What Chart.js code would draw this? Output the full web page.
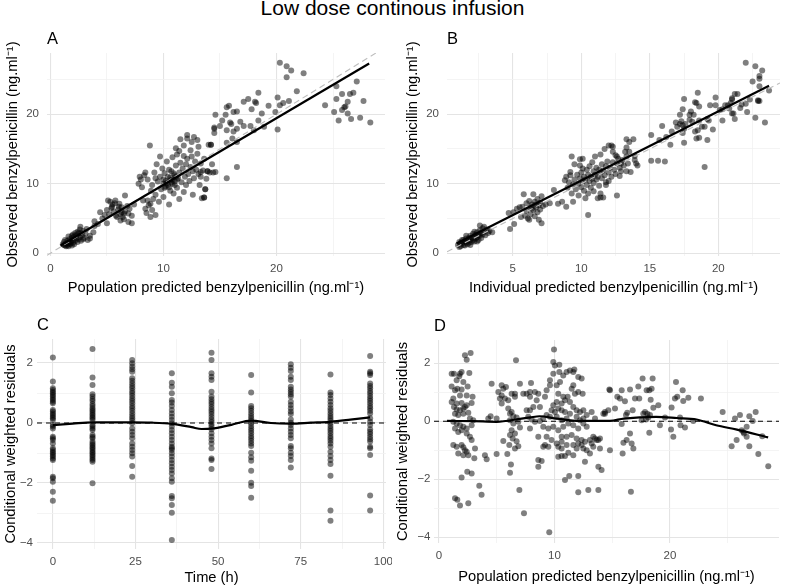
<!DOCTYPE html>
<html>
<head>
<meta charset="utf-8">
<script src="https://cdn.jsdelivr.net/npm/chart.js@4.4.1/dist/chart.umd.min.js"></script>
<style>
  body { margin: 0; background: #fff; font-family: "Liberation Sans", Arial, sans-serif; }
  #fig { position: relative; width: 785px; height: 587px; overflow: hidden; background: #fff; }
  #fig canvas { position: absolute; }
  #title { position: absolute; left: 0; top: -3px; width: 785px; text-align: center; font-size: 21px; line-height: 21px; color: #000; }
</style>
</head>
<body>
<div id="fig">
  <div id="title">Low dose continous infusion</div>
  <canvas id="pA" width="392" height="305" style="left:0;top:0;width:392px;height:305px"></canvas>
  <canvas id="pB" width="393" height="305" style="left:392px;top:0;width:393px;height:305px"></canvas>
  <canvas id="pC" width="392" height="282" style="left:0;top:305px;width:392px;height:282px"></canvas>
  <canvas id="pD" width="393" height="282" style="left:392px;top:305px;width:393px;height:282px"></canvas>
</div>
<script>
// Panel A: [population predicted, observed]
const aPoints = [
  [1.1,1.3],[1.2,1.6],[1.3,1.1],[1.4,1.4],[1.5,1.8],[1.5,1.2],[1.6,1.5],[1.7,2.0],[1.7,1.3],[1.8,1.7],
  [1.9,1.1],[1.9,2.2],[2.0,1.5],[2.0,1.9],[2.1,2.4],[2.1,1.3],[2.2,1.8],[2.3,2.1],[2.3,2.6],[2.4,1.6],
  [2.5,2.0],[2.5,2.9],[2.6,2.3],[2.7,1.8],[2.8,2.6],[2.9,3.2],[3.0,2.2],[3.1,2.8],[3.3,1.9],[3.5,2.5],
  [1.3,1.9],[1.6,2.4],[1.8,1.4],[2.2,2.9],[2.4,3.1],[2.6,3.4],[2.0,2.7],[1.4,1.0],[1.2,1.2],[2.9,2.0],
  [3.2,3.5],[3.8,3.0],[1.6,1.0],[2.7,2.9],[1.9,2.5],[3.5,2.1],[3.9,3.9],[2.65,3.8],
  [5.3,7.4],[5.75,7.6],[5.45,6.7],[6.05,6.7],[6.3,5.9],[5.9,5.2],[6.2,4.7],[6.5,5.7],[6.9,4.5],[7.2,4.3],
  [5.0,4.3],[4.6,5.0],[4.4,5.9],[6.6,8.3],[5.0,6.2],[5.2,5.6],[5.5,7.0],[5.6,6.0],[5.8,5.4],[6.0,6.3],
  [6.1,7.1],[6.3,6.6],[6.4,5.2],[6.6,6.0],[6.8,6.8],[7.0,6.4],[7.2,5.4],[5.4,6.5],[5.7,7.2],[6.2,5.6],
  [4.8,5.5],[4.2,4.2],[3.9,4.6],[6.9,5.7],[7.4,7.0],[5.1,7.6],[6.5,4.9],
  [9.7,13.9],[7.9,11.0],[8.3,11.2],[7.8,10.0],[8.1,9.5],[8.6,7.6],[8.85,7.1],[8.5,5.8],[8.85,5.2],[9.3,5.5],
  [8.8,15.5],[12.1,17.0],[11.5,16.4],[12.7,16.7],[13.0,16.3],[11.8,15.5],[11.1,15.1],[11.4,14.7],[12.4,14.8],[13.1,15.3],
  [14.0,15.6],[12.1,16.5],[12.5,16.0],
  [9.0,9.8],[9.2,11.6],[9.3,8.4],[9.4,12.8],[9.5,10.3],[9.6,7.4],[9.7,11.0],[9.8,9.2],[9.9,12.2],[10.0,10.6],
  [10.0,8.1],[10.1,11.5],[10.2,9.6],[10.3,13.2],[10.3,10.1],[10.4,11.0],[10.5,7.0],[10.5,12.0],[10.6,9.0],[10.6,10.5],
  [10.7,11.8],[10.8,10.0],[10.8,13.8],[10.9,8.6],[11.0,11.2],[11.0,10.3],[11.1,12.6],[11.2,9.4],[11.2,14.2],[11.3,10.8],
  [11.4,7.8],[11.4,11.6],[11.5,13.0],[11.6,10.2],[11.7,12.2],[11.8,8.8],[11.8,14.0],[11.9,11.0],[12.0,12.8],[12.0,9.8],
  [12.1,13.6],[12.2,11.4],[12.3,10.4],[12.4,12.4],[12.5,13.9],[12.6,8.4],[12.6,11.8],[12.7,10.8],[12.8,13.2],[12.9,12.0],
  [13.0,14.3],[13.1,11.4],[13.2,9.8],[13.3,12.9],[13.4,7.9],[13.5,11.9],[13.6,13.6],[13.8,10.7],[13.9,11.8],[14.1,11.6],
  [14.3,12.8],[14.6,11.7],[13.7,9.2],[13.6,8.0],[14.5,17.9],[14.2,15.6],[14.6,19.9],[14.5,18.1],[14.5,17.3],
  [10.0,10.0],[10.2,10.4],[10.4,9.8],[10.6,10.9],[10.8,10.6],[11.0,9.8],[10.1,9.4],[10.9,11.5],[11.2,10.6],[10.5,9.5],
  [10.7,10.2],[11.1,11.0],[8.2,7.6],[8.4,6.4],[8.7,6.9],[9.0,6.2],[9.1,7.8],[8.9,9.0],[9.3,10.8],[8.6,10.6],
  [8.0,10.6],[8.4,11.6],
  [20.3,27.4],[20.9,26.9],[21.3,26.3],[20.9,25.3],[22.4,25.9],[21.8,23.3],[20.1,22.4],[21.1,21.9],[20.6,21.6],[20.3,21.3],
  [19.3,21.2],[19.9,20.3],[18.7,20.1],[20.1,17.8],[18.4,23.1],[18.1,21.8],[18.2,21.6],[17.5,22.2],[17.1,21.8],[17.8,20.7],
  [18.4,19.1],[18.9,18.2],[18.0,17.7],[17.7,18.3],[17.1,18.3],[16.8,18.9],[16.5,20.4],[16.2,20.3],[15.8,21.2],[15.6,21.0],
  [15.5,19.9],[15.2,19.1],[15.9,18.8],[15.0,18.3],[15.6,17.7],[16.2,17.5],[16.5,17.9],[16.1,16.5],[16.5,16.0],[15.6,15.9],
  [14.2,15.6],[16.5,12.4],[15.6,10.8],[13.9,11.8],[14.4,11.6],[13.3,11.7],[13.3,11.0],[13.7,9.2],[13.6,8.0],[16.0,18.6],
  [24.3,21.3],[25.3,24.0],[25.3,22.2],[25.8,22.9],[27.1,24.7],[26.5,22.9],[26.8,23.1],[26.3,21.8],[26.0,21.0],[26.1,21.1],
  [25.8,20.6],[25.1,20.3],[26.3,20.1],[25.5,19.1],[26.6,19.3],[27.4,19.5],[27.7,21.9],[28.3,18.8]
];

// Panel B: [individual predicted, observed]
const bPoints = [
  [1.0,1.2],[1.1,1.6],[1.2,1.0],[1.3,1.4],[1.3,1.9],[1.4,1.2],[1.5,1.7],[1.5,1.1],[1.6,1.5],[1.6,2.1],
  [1.7,1.3],[1.7,1.8],[1.8,2.2],[1.8,1.5],[1.9,1.9],[1.9,2.5],[2.0,1.6],[2.0,2.2],[2.1,2.8],[2.1,1.9],
  [2.2,2.4],[2.2,1.7],[2.3,2.7],[2.3,2.1],[2.4,3.0],[2.4,2.3],[2.5,2.6],[2.5,1.9],[2.6,3.3],[2.6,2.5],
  [2.7,2.9],[2.7,2.2],[2.8,3.6],[2.8,2.7],[2.9,3.1],[3.0,2.6],[3.1,3.4],[3.2,2.9],[1.2,1.5],[1.4,1.9],
  [1.9,1.2],[2.2,3.1],[2.9,3.8],[3.3,3.2],[1.6,2.5],[2.4,1.7],[1.1,0.9],[3.5,3.0],[2.6,4.0],
  [4.8,3.5],[5.1,4.2],[5.05,5.9],[4.7,5.8],[5.3,6.4],[5.5,6.6],[5.7,6.7],[5.9,5.4],[6.0,7.2],[6.0,6.1],
  [6.1,5.0],[6.2,7.5],[6.3,6.6],[6.3,5.6],[6.4,7.0],[6.5,6.2],[6.5,8.5],[6.6,5.3],[6.6,7.4],[6.7,6.6],
  [6.8,5.9],[6.8,7.8],[6.9,6.9],[6.9,4.8],[7.0,6.3],[7.0,7.3],[7.1,4.3],[7.1,8.2],[7.2,6.8],[5.8,8.5],
  [6.2,4.8],[5.6,5.2],[7.4,7.0],[7.7,7.2],[6.4,6.4],[6.7,7.0],
  [8.0,9.1],[8.3,7.1],[8.6,7.4],[8.9,6.7],[8.8,10.5],[8.9,11.0],[9.2,11.2],[9.2,11.7],[9.3,13.9],[9.5,12.8],
  [10.1,13.6],[9.9,13.5],[10.1,12.2],[10.5,5.5],[11.2,7.9],[11.4,8.6],[11.6,8.0],[11.0,13.9],[11.4,14.2],[11.7,15.0],
  [12.0,15.5],[12.2,15.5],
  [9.0,9.4],[9.1,10.2],[9.3,8.6],[9.4,9.9],[9.5,10.6],[9.6,9.2],[9.7,11.3],[9.8,10.0],[9.9,10.8],[10.0,9.5],
  [10.0,11.6],[10.1,10.3],[10.2,9.0],[10.2,11.0],[10.3,10.6],[10.4,12.0],[10.4,9.8],[10.5,11.3],[10.6,10.4],[10.6,12.5],
  [10.7,9.4],[10.7,11.0],[10.8,10.7],[10.9,11.8],[10.9,10.1],[11.0,11.3],[11.1,12.3],[11.1,10.6],[11.2,11.0],[11.3,12.0],
  [11.3,9.7],[11.4,11.6],[11.5,12.8],[11.5,10.8],[11.6,11.9],[11.7,11.2],[11.8,12.5],[11.8,10.2],[11.9,13.2],[12.0,11.6],
  [12.1,12.3],[12.2,11.0],[12.3,13.1],[12.4,12.0],[12.5,11.4],[12.6,12.9],[12.7,13.6],[12.8,12.3],[12.9,11.8],[13.0,13.4],
  [13.1,12.6],[13.2,14.6],[13.3,13.9],[13.4,12.9],[13.5,14.6],[13.5,16.0],[13.3,16.4],[13.8,16.4],[13.3,15.2],[12.3,15.3],
  [12.3,14.6],[12.6,13.9],[12.9,12.9],[13.9,13.4],[14.1,12.6],[13.3,11.8],[14.0,12.9],[13.6,11.7],[12.6,8.3],[11.4,8.0],
  [11.8,9.8],[10.3,7.9],[9.8,8.3],[9.4,7.4],[10.9,8.9],[12.0,10.4],[12.8,11.1],[13.9,14.0],[12.5,14.1],[10.8,13.1],
  [9.9,12.6],[10.5,8.6],
  [15.1,17.0],[15.1,13.3],[15.6,13.3],[16.1,13.2],[15.7,16.3],[15.9,18.3],[16.2,16.7],[16.5,15.6],[16.9,18.8],[17.0,18.2],
  [17.2,18.6],[17.3,19.0],[17.4,18.4],[17.5,17.9],[17.6,18.6],[17.4,17.3],[17.5,15.9],[17.4,20.7],[17.2,19.9],[17.5,22.2],
  [17.9,19.9],[18.2,19.9],[17.9,19.2],[18.1,18.9],[18.3,21.7],[18.4,21.6],[18.6,21.1],[18.5,23.1],[18.6,19.1],[18.8,18.2],
  [19.0,18.2],[19.2,19.3],[19.3,19.1],[18.5,17.7],[18.4,16.5],[18.6,16.6],[19.2,16.3],[19.6,17.8],[18.3,17.5],[19.0,12.4],
  [19.4,21.3],[19.8,21.3],[19.8,22.4],[16.6,17.5],[18.0,20.4],
  [20.1,20.6],[20.3,20.7],[20.3,19.1],[20.5,21.3],[20.7,21.3],[20.8,20.8],[21.0,22.1],[21.0,22.3],[21.0,20.1],[21.1,20.1],
  [21.2,22.9],[21.4,22.9],[21.2,19.3],[21.7,21.4],[22.0,21.5],[22.0,27.4],[22.1,20.3],[22.3,22.1],[22.5,24.7],[22.7,26.9],
  [22.7,19.5],[22.9,22.0],[22.9,21.9],[23.0,25.5],[23.0,25.1],[23.0,24.0],[23.2,26.3],[23.4,18.8],[23.7,23.4],[23.0,21.9],
  [21.6,20.9],[20.9,21.6]
];

// Panel C: conditional weighted residuals by sampling time
const cTimes = [0, 12, 24, 36, 48, 60, 72, 84, 96];
const cCwres = [
  [2.18,1.38,1.16,1.1,1.04,0.99,0.93,0.88,0.82,0.77,0.71,0.66,0.43,0.38,0.32,0.27,0.21,0.16,0.1,-0.07,-0.12,-0.18,-0.46,-0.51,-0.57,-0.68,-0.84,-0.9,-0.96,-1.01,-1.07,-1.12,-1.18,-1.23,-1.79,-1.84,-1.96,-2.29,-2.59],
  [2.47,1.52,1.27,0.96,0.88,0.8,0.73,0.63,0.57,0.49,0.43,0.38,0.32,0.27,0.21,0.16,0.1,-0.07,-0.12,-0.18,-0.23,-0.4,-0.46,-0.51,-0.62,-0.68,-0.73,-0.79,-0.84,-0.9,-0.96,-1.01,-1.07,-1.12,-1.18,-1.23,-1.29,-2.01],
  [2.1,1.99,1.88,1.79,1.71,1.49,1.41,1.32,1.23,1.16,1.07,0.99,0.91,0.82,0.74,0.66,0.57,0.49,0.41,0.32,0.23,0.16,0.08,-0.01,-0.18,-0.29,-0.4,-0.51,-0.68,-0.79,-0.9,-1.01,-1.12,-1.43,-1.79],
  [1.66,1.34,1.21,0.99,0.77,0.68,0.57,0.43,0.32,0.21,0.1,-0.01,-0.12,-0.23,-0.34,-0.46,-0.57,-0.68,-0.79,-0.84,-0.9,-1.01,-1.12,-1.23,-1.34,-1.46,-1.57,-1.68,-1.84,-1.96,-2.43,-2.51,-2.73,-2.99,-3.9],
  [2.34,2.1,1.66,1.54,1.43,1.04,0.88,0.79,0.71,0.63,0.54,0.46,0.38,0.3,0.21,0.12,0.04,-0.04,-0.12,-0.21,-0.34,-0.46,-0.57,-0.68,-0.84,-1.18,-1.23,-1.53],
  [1.6,1.02,0.57,0.49,0.41,0.32,0.23,0.16,0.08,-0.01,-0.1,-0.18,-0.26,-0.34,-0.43,-0.51,-0.59,-0.68,-0.77,-0.99,-1.14,-1.26,-1.59,-1.99,-2.1,-2.49],
  [1.96,1.84,1.73,1.54,1.43,1.21,1.12,1.04,0.96,0.88,0.71,0.6,0.49,0.38,0.3,0.12,0.01,-0.07,-0.18,-0.29,-0.4,-0.51,-0.77,-0.84,-0.99,-1.1,-1.23,-1.48],
  [1.62,1.02,0.93,0.82,0.71,0.6,0.49,0.41,0.32,0.23,0.16,0.08,-0.01,-0.1,-0.18,-0.26,-0.34,-0.43,-0.51,-0.59,-0.68,-0.79,-0.96,-1.1,-1.23,-1.37,-1.76,-2.92,-3.26],
  [2.23,1.71,1.66,1.6,1.32,1.23,1.16,1.07,0.99,0.9,0.82,0.74,0.66,0.57,0.49,0.41,0.32,0.16,0.04,-0.07,-0.21,-0.29,-0.37,-0.46,-0.54,-0.62,-0.79,-0.84,-1.07,-2.42,-2.92]
];

// Panel D: [population predicted, CWRES]
const dPoints = [
  [1.10,1.64],[1.30,1.64],[1.82,1.64],[1.96,1.70],[1.76,1.55],[1.53,1.41],[1.10,1.20],[1.39,1.07],[1.59,1.12],[1.96,1.09],
  [2.11,1.35],[2.48,1.20],[2.63,1.66],[2.40,0.89],[1.82,0.89],[1.24,0.78],[1.10,0.66],[1.53,0.61],[1.96,0.63],[2.40,0.55],
  [2.83,0.63],[2.91,0.84],[1.30,0.49],[1.53,0.40],[1.82,0.38],[2.11,0.44],[2.25,0.49],[1.39,0.26],[1.67,0.21],[2.11,0.26],
  [2.54,0.29],[2.68,0.09],[2.97,0.03],[1.24,-0.02],[1.53,-0.08],[1.82,-0.14],[2.11,-0.19],[2.40,-0.25],[1.39,-0.25],[2.83,-0.14],
  [1.67,-0.37],[1.96,-0.31],[2.40,-0.42],[2.68,-0.54],[2.83,-0.65],[1.24,-0.82],[1.53,-0.88],[1.96,-0.82],[2.11,-0.90],[2.25,-1.00],
  [2.40,-1.05],[1.67,-1.11],[2.11,-1.17],[2.54,-1.17],[3.12,-0.94],[3.06,-1.28],[2.25,2.27],[2.40,2.12],[2.74,2.35],[2.45,-1.74],
  [2.83,-1.80],[1.96,-1.94],[1.39,-2.66],[1.59,-2.71],[1.82,-2.91],[2.54,-2.83],[3.49,-2.23],[3.69,-2.54],[3.98,-1.17],[4.13,-1.31],
  [4.99,-1.13],[5.57,-0.68],[5.92,-1.13],[6.23,-1.49],[6.15,-1.78],[6.96,-2.37],[7.36,-3.17],[9.55,-3.83],[8.89,-1.37],[8.60,-1.57],
  [8.60,-0.54],
  [5.14,1.01],[5.43,1.24],[5.57,1.12],[5.80,1.18],[5.43,0.89],[5.28,0.78],[5.71,0.78],[6.00,0.72],[6.29,0.95],[6.58,0.95],
  [6.58,0.84],[6.00,0.44],[6.29,0.32],[6.15,0.26],[6.44,0.17],[6.72,0.13],[6.15,0.03],[6.44,-0.08],[6.87,-0.02],[7.01,-0.22],
  [6.29,-0.31],[6.58,-0.42],[6.15,-0.48],[6.38,-0.60],[6.72,-0.69],[6.09,-0.82],[6.58,-0.94],[6.87,-0.86],[4.56,1.29],[4.47,0.17],
  [4.27,0.09],[4.99,0.09],[5.43,0.61],[6.67,2.10],
  [7.97,1.32],[7.88,1.01],[8.31,1.01],[8.60,0.95],[8.46,0.72],[8.74,0.49],[9.18,0.84],[9.32,1.07],[9.61,1.24],[9.61,1.41],
  [9.90,1.64],[10.04,1.92],[9.90,2.04],[9.96,2.47],[10.42,1.95],[10.42,1.70],[10.48,1.35],[10.19,1.24],[10.76,1.58],[11.05,1.70],
  [11.34,1.75],[11.72,1.78],[11.63,1.70],[12.06,1.52],[12.35,1.47],[12.44,0.95],[12.06,1.01],[11.77,0.95],[11.63,1.24],[11.49,1.12],
  [11.14,0.84],[10.76,0.84],[10.91,0.72],[10.62,0.61],[10.19,0.66],[9.90,0.55],[9.75,0.38],[10.04,0.32],[10.33,0.44],[10.62,0.38],
  [10.91,0.32],[11.34,0.66],[11.63,0.49],[11.92,0.38],[12.21,0.32],[12.50,0.38],[12.79,0.21],[12.50,0.09],[12.21,0.03],[11.92,0.15],
  [11.34,0.26],[11.05,0.09],[10.62,0.03],[10.19,0.15],[9.61,0.15],[9.32,0.21],[9.03,0.09],[8.74,0.01],[8.31,-0.02],[8.02,0.06],
  [7.73,0.15],[7.59,0.38],[7.88,0.38],[8.17,0.49],[9.03,-0.19],[9.47,-0.25],[9.90,-0.19],[10.33,-0.31],[10.76,-0.19],[11.20,-0.08],
  [11.63,-0.14],[12.06,-0.25],[12.50,-0.08],[12.79,-0.19],[9.32,-0.54],[9.75,-0.65],[10.19,-0.77],[10.62,-0.71],[11.05,-0.54],[11.49,-0.48],
  [11.92,-0.60],[12.35,-0.65],[12.64,-0.71],[9.18,-0.82],[9.03,-0.88],[9.47,-0.88],[10.33,-0.88],[10.62,-0.94],[11.05,-0.82],[11.63,-0.82],
  [12.06,-0.77],[12.35,-0.82],[12.50,-0.94],[12.79,-1.00],[8.60,-1.34],[10.33,-1.23],[10.62,-1.20],[10.91,-1.20],[11.20,-1.09],[11.63,-1.17],
  [11.92,-0.94],[12.64,-1.40],[10.91,-2.03],[11.28,-1.89],[12.06,-1.89],[12.06,-2.45],[12.93,-2.37],[7.88,-0.25],[7.01,1.29],[7.30,0.95],
  [7.59,0.95],[7.88,0.84],[13.07,-0.65],[13.36,-0.54],[13.65,-0.65],[13.94,-0.60],[13.36,-0.88],[13.80,-1.57],[14.08,-1.68],[14.23,0.26],
  [14.37,0.32],[14.66,0.38],[14.81,1.07],[10.33,0.95],[10.62,-0.54],
  [14.75,1.09],[15.24,0.44],[14.37,0.26],[13.51,0.09],[13.22,0.32],[13.51,-0.60],[13.80,-0.65],[13.22,-0.77],[13.07,-1.11],[13.94,-0.94],
  [13.80,-2.37],[14.80,-1.00],[15.44,0.84],[15.67,0.78],[15.82,1.07],[16.10,0.69],[16.19,0.21],[16.30,0.29],[15.82,-0.10],[15.97,-0.74],
  [15.90,-1.11],[16.25,-0.65],[16.54,-0.42],[16.68,-0.77],[16.83,-0.94],[16.54,1.09],[16.62,-2.43],[16.77,0.38],[16.97,0.78],[17.34,0.78],
  [17.26,1.20],[17.63,1.47],[17.98,1.07],[18.21,1.07],[18.50,1.47],[18.41,1.12],[18.33,0.74],[18.56,0.46],[18.99,0.55],[17.69,0.26],
  [17.84,0.32],[18.04,0.26],[18.12,0.13],[18.27,0.21],[17.92,0.06],[18.21,-0.40],[19.13,-0.14],[19.57,0.13],[17.55,0.03],[20.09,-0.29],
  [20.29,-0.54],[20.14,0.47],[20.43,0.78],[20.52,1.35],[20.63,0.84],[20.92,-0.14],[21.10,1.07],[21.15,0.70],[21.30,-0.22],[21.59,0.81],
  [22.02,0.01],[22.68,0.78],[20.87,0.13],[24.56,0.32],[25.34,-0.86],[25.63,0.09],[25.77,-0.65],[26.06,0.21],[26.21,-0.31],[26.41,-0.42],
  [26.64,-0.54],[26.87,0.17],[26.87,-0.86],[27.16,0.01],[27.42,0.32],[27.65,-1.13],[27.99,-0.52],[28.51,-1.55],[26.35,-0.37],[26.64,-0.19]
];

// fitted lines
const aFitX = [0.9, 28.2], aFitY = [1.1, 27.3];
const bFitX = [0.9, 23.7], bFitY = [1.4, 24.1];
const cSmoothT = [0, 6, 12, 18, 24, 30, 36, 42, 45, 48, 54, 60, 66, 72, 78, 84, 90, 96];
const cSmoothY = [-0.07, -0.02, 0.02, 0.02, 0.02, 0.01, -0.03, -0.14, -0.2, -0.19, -0.06, 0.08, 0.0, -0.02, 0.01, 0.04, 0.11, 0.19];
const dSmoothX = [0.7, 3, 5, 7, 7.9, 8.7, 10.2, 12.2, 14.8, 16, 18.8, 20.6, 22.3, 24, 25.8, 28.5];
const dSmoothY = [0.01, 0.0, -0.02, 0.08, 0.13, 0.17, 0.09, 0.01, 0.01, 0.09, 0.15, 0.11, 0.06, -0.14, -0.29, -0.56];

// tick labels
const concTicks = [0, 10, 20];
const concMinor = [5, 15, 25];
const indivTicks = [5, 10, 15, 20];
const indivMinor = [2.5, 7.5, 12.5, 17.5, 22.5];
const timeTicks = [0, 25, 50, 75, 100];
const timeMinor = [12.5, 37.5, 62.5, 87.5];
const resTicks = [-4, -2, 0, 2];
const resMinor = [-3, -1, 1];

const FONT = '"Liberation Sans", Arial, sans-serif';
const UNIT = ' (ng.ml\u207B\u00B9)';

// draws the panel letter above the top-left corner of the plot area
const tagPlugin = {
  id: 'tag',
  afterDraw(chart, args, opts) {
    const ctx = chart.ctx, area = chart.chartArea;
    ctx.save();
    ctx.font = '16.5px ' + FONT;
    ctx.fillStyle = '#000';
    ctx.textAlign = 'left';
    ctx.textBaseline = 'alphabetic';
    ctx.fillText(opts.text, area.left, area.top - 9);
    ctx.restore();
  }
};

// negative labels get a proper minus sign so the sign stays legible
const fmt = v => (v < 0 ? '\u2212' + Math.abs(v) : String(v));

function makeAxis(o, dir) {
  const all = o.major.concat(o.minor).sort((a, b) => a - b);
  const isMajor = v => o.major.indexOf(v) !== -1;
  return {
    type: 'linear',
    position: dir === 'x' ? 'bottom' : 'left',
    min: o.min,
    max: o.max,
    afterBuildTicks: s => { s.ticks = all.map(v => ({ value: v })); },
    afterFit: s => {
      if (dir === 'x') { s.height = o.size; s.paddingLeft = 0; s.paddingRight = 0; }
      else { s.width = o.size; s.paddingTop = 0; s.paddingBottom = 0; }
    },
    grid: {
      drawTicks: false,
      color: c => (c.tick && isMajor(c.tick.value)) ? '#e4e4e4' : '#f1f1f1',
      lineWidth: c => (c.tick && isMajor(c.tick.value)) ? 1.1 : 0.8
    },
    border: { display: false },
    ticks: {
      padding: o.tickPad,
      color: '#4d4d4d',
      font: { family: FONT, size: 11.5 },
      autoSkip: false,
      maxRotation: 0,
      callback: v => isMajor(v) ? fmt(v) : ''
    },
    title: {
      display: true,
      text: o.title,
      color: '#000',
      font: { family: FONT, size: 14.7 },
      padding: dir === 'x' ? { top: 0, bottom: o.titlePad } : { top: o.titlePad, bottom: 0 }
    }
  };
}

function pointSet(points) {
  return {
    data: points.map(p => ({ x: p[0], y: p[1] })),
    showLine: false,
    pointRadius: 3,
    pointBackgroundColor: 'rgba(0,0,0,0.5)',
    pointBorderWidth: 0
  };
}

function lineSet(xs, ys, style) {
  return Object.assign({
    data: xs.map((x, i) => ({ x: x, y: ys[i] })),
    showLine: true,
    pointRadius: 0,
    borderColor: '#000',
    borderWidth: 2.2,
    fill: false
  }, style);
}

function panel(id, cfg) {
  return new Chart(document.getElementById(id).getContext('2d'), {
    type: 'scatter',
    data: { datasets: cfg.datasets },
    options: {
      responsive: false,
      animation: false,
      events: [],
      layout: { padding: cfg.padding },
      plugins: { legend: { display: false }, tooltip: { enabled: false }, tag: { text: cfg.tag } },
      scales: { x: makeAxis(cfg.x, 'x'), y: makeAxis(cfg.y, 'y') }
    },
    plugins: [tagPlugin]
  });
}

const concY = { min: -0.4, max: 28.8, major: concTicks, minor: concMinor, tickPad: 8,
  title: 'Observed benzylpenicillin' + UNIT };
const identity = { borderColor: '#bdbdbd', borderWidth: 1.1, borderDash: [6, 4] };
const zeroLine = { borderColor: '#000', borderWidth: 1.1, borderDash: [5, 4] };

// A
const aX = { min: -0.3, max: 29.6 };
panel('pA', {
  tag: 'A',
  padding: { top: 53, right: 7, left: 0, bottom: 0 },
  x: Object.assign({ major: concTicks, minor: concMinor, tickPad: 5.5, titlePad: 8.5, size: 49,
    title: 'Population predicted benzylpenicillin' + UNIT }, aX),
  y: Object.assign({ size: 47, titlePad: 4 }, concY),
  datasets: [
    lineSet(aFitX, aFitY, {}),
    lineSet([aX.min, aX.max], [aX.min, aX.max], identity),
    pointSet(aPoints)
  ]
});

// B
const bX = { min: 0.2, max: 24.5 };
panel('pB', {
  tag: 'B',
  padding: { top: 53, right: 5, left: 0, bottom: 0 },
  x: Object.assign({ major: indivTicks, minor: indivMinor, tickPad: 5.5, titlePad: 8.5, size: 49,
    title: 'Individual predicted benzylpenicillin' + UNIT }, bX),
  y: Object.assign({ size: 55, titlePad: 12 }, concY),
  datasets: [
    lineSet(bFitX, bFitY, {}),
    lineSet([bX.min, bX.max], [bX.min, bX.max], identity),
    pointSet(bPoints)
  ]
});

// C
const cX = { min: -4.8, max: 100.8 };
const cPoints = [];
cTimes.forEach((t, i) => cCwres[i].forEach(v => cPoints.push([t, v])));
panel('pC', {
  tag: 'C',
  padding: { top: 34, right: 6, left: 0, bottom: 0 },
  x: Object.assign({ major: timeTicks, minor: timeMinor, tickPad: 5.5, titlePad: 0, size: 38, title: 'Time (h)' }, cX),
  y: { min: -4.2, max: 2.8, major: resTicks, minor: resMinor, tickPad: 4, titlePad: 2.5, size: 37,
    title: 'Conditional weighted residuals' },
  datasets: [
    lineSet(cSmoothT, cSmoothY, { cubicInterpolationMode: 'monotone' }),
    lineSet([cX.min, cX.max], [0, 0], zeroLine),
    pointSet(cPoints)
  ]
});

// D
const dX = { min: -0.43, max: 29.44 };
panel('pD', {
  tag: 'D',
  padding: { top: 35, right: 6, left: 0, bottom: 0 },
  x: Object.assign({ major: concTicks, minor: concMinor, tickPad: 5.5, titlePad: 1, size: 44,
    title: 'Population predicted benzylpenicillin' + UNIT }, dX),
  y: { min: -4.2, max: 2.8, major: resTicks, minor: resMinor, tickPad: 3.5, titlePad: 2, size: 42,
    title: 'Conditional weighted residuals' },
  datasets: [
    lineSet(dSmoothX, dSmoothY, { cubicInterpolationMode: 'monotone' }),
    lineSet([dX.min, dX.max], [0, 0], zeroLine),
    pointSet(dPoints)
  ]
});
</script>
</body>
</html>
